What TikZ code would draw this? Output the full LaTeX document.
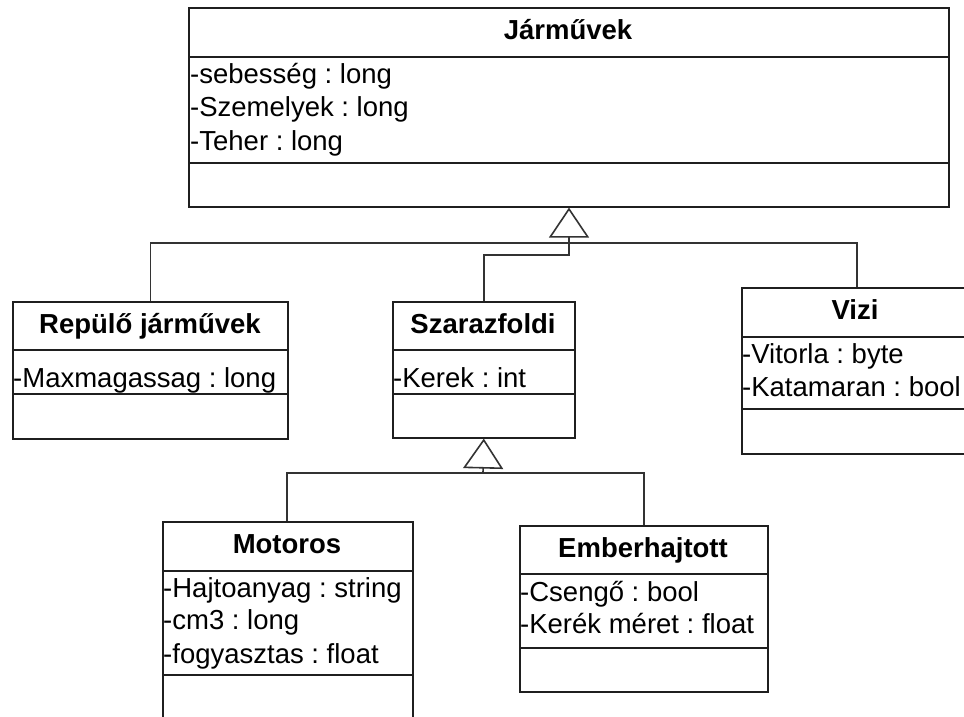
\documentclass[tikz,border=0pt]{standalone}
\usepackage{fontspec}
\setmainfont{Liberation Sans}
\usetikzlibrary{arrows.meta}
\frenchspacing
\begin{document}
\begin{tikzpicture}[x=1pt,y=-1pt,
  boxline/.style={draw=black!88,line width=1.6pt},
  cls/.style={boxline,fill=white,inner sep=0pt,anchor=north west},
  ttl/.style={font=\fontsize{27.5}{30}\selectfont\bfseries,anchor=base,inner sep=0pt},
  attr/.style={font=\fontsize{27.5}{30}\selectfont,anchor=base west,inner sep=0pt},
  conn/.style={draw=black!80,line width=1.6pt},
  inh/.style={conn,-{Triangle[open,length=30pt,width=40pt]}}]
\clip (0,0) rectangle (964,717);
\fill[white] (0,0) rectangle (964,717);

% Jarmuvek
\node[cls,minimum width=760pt,minimum height=199pt] (jarm) at (188,7) {};
\draw[boxline] (jarm.west |- 0,57) -- (jarm.east |- 0,57);
\draw[boxline] (jarm.west |- 0,163) -- (jarm.east |- 0,163);
\node[ttl] (jarmT) at (568,40) {Járművek};
\node[attr] (ja1) at (190,84) {-sebesség : long};
\node[attr] (ja2) at (190,117) {-Szemelyek : long};
\node[attr] (ja3) at (190,150) {-Teher : long};

% Repulo
\node[cls,minimum width=275pt,minimum height=137pt] (rep) at (12,301) {};
\draw[boxline] (rep.west |- 0,350) -- (rep.east |- 0,350);
\draw[boxline] (rep.west |- 0,394) -- (rep.east |- 0,394);
\node[ttl] (repT) at (150,333) {Repülő járművek};
\node[attr] (ra1) at (13,387) {-Maxmagassag : long};

% Szarazfoldi
\node[cls,minimum width=182pt,minimum height=136pt] (sza) at (392,301) {};
\draw[boxline] (sza.west |- 0,350) -- (sza.east |- 0,350);
\draw[boxline] (sza.west |- 0,394) -- (sza.east |- 0,394);
\node[ttl] (szaT) at (483,333) {Szarazfoldi};
\node[attr] (sa1) at (393,387) {-Kerek : int};

% Vizi
\node[cls,minimum width=226pt,minimum height=166pt] (viz) at (741,287) {};
\draw[boxline] (viz.west |- 0,337) -- (viz.east |- 0,337);
\draw[boxline] (viz.west |- 0,409) -- (viz.east |- 0,409);
\node[ttl] (vizT) at (855,319) {Vizi};
\node[attr] (va1) at (742,363) {-Vitorla : byte};
\node[attr] (va2) at (742,396) {-Katamaran : bool};

% Motoros
\node[cls,minimum width=250pt,minimum height=230pt] (mot) at (162,521) {};
\draw[boxline] (mot.west |- 0,571) -- (mot.east |- 0,571);
\draw[boxline] (mot.west |- 0,675) -- (mot.east |- 0,675);
\node[ttl] (motT) at (287,553) {Motoros};
\node[attr] (ma1) at (163,597) {-Hajtoanyag : string};
\node[attr] (ma2) at (163,629) {-cm3 : long};
\node[attr] (ma3) at (163,663) {-fogyasztas : float};

% Emberhajtott
\node[cls,minimum width=248pt,minimum height=166pt] (emb) at (519,525) {};
\draw[boxline] (emb.west |- 0,574) -- (emb.east |- 0,574);
\draw[boxline] (emb.west |- 0,648) -- (emb.east |- 0,648);
\node[ttl] (embT) at (643,557) {Emberhajtott};
\node[attr] (ea1) at (520,601) {-Csengő : bool};
\node[attr] (ea2) at (520,633) {-Kerék méret : float};

% inheritance connectors
\coordinate (j1) at (569,243);
\draw[conn] (rep.north) |- (j1) -| ([xshift=2pt]viz.north);
\draw[conn] (sza.north) |- (569,255) -- (j1);
\draw[inh] (j1) -- (jarm.south -| j1);

\coordinate (j2) at (483,473);
\draw[conn] ([xshift=-1pt]mot.north) |- (j2) -| (emb.north);
\draw[inh] (j2) -- (sza.south);
\end{tikzpicture}
\end{document}
